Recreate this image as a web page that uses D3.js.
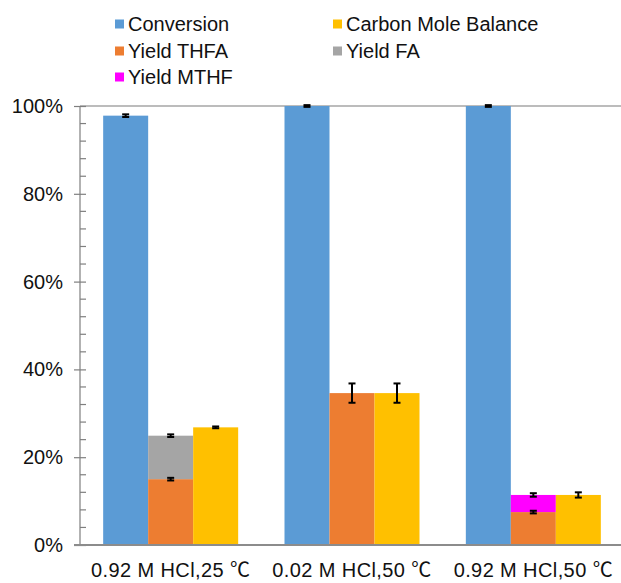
<!DOCTYPE html>
<html>
<head>
<meta charset="utf-8">
<script src="https://cdn.jsdelivr.net/npm/d3@7"></script>
<style>
  html, body { margin: 0; padding: 0; background: #fff; }
  svg { display: block; font-family: "Liberation Sans", Arial, "Noto Sans CJK SC", sans-serif; }
</style>
</head>
<body>
<svg id="chart" width="621" height="583"></svg>
<script>
// Reaction conditions (x categories)
const categories = ["0.92 M HCl,25 ℃", "0.02 M HCl,50 ℃", "0.92 M HCl,50 ℃"];

// Values in percent
const conversion    = [97.8, 100, 100];
const yieldTHFA     = [15.0, 34.6, 7.5];
const yieldFA       = [9.9, 0, 0];
const yieldMTHF     = [0, 0, 3.9];
const carbonBalance = [26.8, 34.6, 11.4];

// Error bar half-widths in percent
const errConversion = [0.3, 0.2, 0.2];
const errTHFA       = [0.3, 2.2, 0.3];
const errFA         = [0.3, 0, 0];
const errMTHF       = [0, 0, 0.4];
const errBalance    = [0.2, 2.2, 0.6];

const yTicks = [0, 20, 40, 60, 80, 100];

const legendItems = [
  { name: "Conversion", color: "#5B9BD5" },
  { name: "Carbon Mole Balance", color: "#FFC000" },
  { name: "Yield THFA", color: "#ED7D31" },
  { name: "Yield FA", color: "#A5A5A5" },
  { name: "Yield MTHF", color: "#FF00FF" }
];
const colors = Object.fromEntries(legendItems.map(d => [d.name, d.color]));

const svg = d3.select("#chart");
const plotLeft = 80, plotRight = 624, plotTop = 106, plotBottom = 545;
const fontSize = 20;

const x = d3.scaleBand().domain(categories).range([plotLeft, plotRight]);
const y = d3.scaleLinear().domain([0, 100]).range([plotBottom, plotTop]);
const barW = 45;
const slot = d3.scaleBand().domain(["conv", "yield", "bal"]).range([0, barW * 3]);
const groupStart = c => x(c) + x.bandwidth() / 2 - barW * 1.5;

// Top gridline (100%)
svg.append("line")
  .attr("x1", plotLeft).attr("x2", 621)
  .attr("y1", y(100)).attr("y2", y(100))
  .attr("stroke", "#A6A6A6").attr("stroke-width", 1.5);

// Bars and error bars per condition
categories.forEach((c, i) => {
  const g0 = groupStart(c);
  const segs = [];
  segs.push({ x: g0 + slot("conv"), y0: 0, y1: conversion[i], color: colors["Conversion"] });
  let acc = 0;
  [[yieldTHFA, "Yield THFA"], [yieldFA, "Yield FA"], [yieldMTHF, "Yield MTHF"]].forEach(([arr, name]) => {
    if (arr[i] > 0) {
      segs.push({ x: g0 + slot("yield"), y0: acc, y1: acc + arr[i], color: colors[name] });
      acc += arr[i];
    }
  });
  segs.push({ x: g0 + slot("bal"), y0: 0, y1: carbonBalance[i], color: colors["Carbon Mole Balance"] });

  svg.append("g").selectAll("rect").data(segs).join("rect")
    .attr("x", d => d.x)
    .attr("y", d => y(d.y1))
    .attr("width", slot.bandwidth())
    .attr("height", d => y(d.y0) - y(d.y1))
    .attr("fill", d => d.color);

  const errs = [];
  errs.push({ cx: g0 + slot("conv") + barW / 2, v: conversion[i], e: errConversion[i] });
  let a2 = yieldTHFA[i];
  errs.push({ cx: g0 + slot("yield") + barW / 2, v: a2, e: errTHFA[i] });
  if (yieldFA[i] > 0) { a2 += yieldFA[i]; errs.push({ cx: g0 + slot("yield") + barW / 2, v: a2, e: errFA[i] }); }
  if (yieldMTHF[i] > 0) { a2 += yieldMTHF[i]; errs.push({ cx: g0 + slot("yield") + barW / 2, v: a2, e: errMTHF[i] }); }
  errs.push({ cx: g0 + slot("bal") + barW / 2, v: carbonBalance[i], e: errBalance[i] });

  const eg = svg.append("g").attr("stroke", "#000").attr("stroke-width", 2);
  errs.forEach(d => {
    const yt = y(d.v + d.e), yb = y(d.v - d.e);
    eg.append("line").attr("x1", d.cx).attr("x2", d.cx).attr("y1", yt).attr("y2", yb);
    eg.append("line").attr("x1", d.cx - 3.5).attr("x2", d.cx + 3.5).attr("y1", yt).attr("y2", yt);
    eg.append("line").attr("x1", d.cx - 3.5).attr("x2", d.cx + 3.5).attr("y1", yb).attr("y2", yb);
  });
});

// Y axis with crossing major ticks and inside minor ticks
const yAxis = svg.append("g").attr("transform", `translate(${plotLeft},0)`)
  .call(d3.axisLeft(y).tickValues(yTicks).tickFormat(d => d + "%").tickSize(6).tickPadding(11));
yAxis.select(".domain").remove();
yAxis.selectAll(".tick line").attr("x1", 6).attr("x2", -6).attr("stroke", "#7F7F7F").attr("stroke-width", 1.2);
yAxis.selectAll(".tick text").attr("font-size", fontSize).attr("fill", "#111")
  .style("font-family", "'Liberation Sans', Arial, sans-serif");

const minor = d3.range(0, 101, 4).filter(v => v % 20 !== 0);
svg.append("g").attr("transform", `translate(${plotLeft},0)`)
  .selectAll("line").data(minor).join("line")
  .attr("x1", 0).attr("x2", 6)
  .attr("y1", d => y(d)).attr("y2", d => y(d))
  .attr("stroke", "#7F7F7F").attr("stroke-width", 1.2);

svg.append("line")
  .attr("x1", plotLeft).attr("x2", plotLeft).attr("y1", y(100)).attr("y2", y(0))
  .attr("stroke", "#7F7F7F").attr("stroke-width", 1.2);

// X axis
svg.append("line")
  .attr("x1", plotLeft - 6).attr("x2", 621).attr("y1", y(0)).attr("y2", y(0))
  .attr("stroke", "#8C8C8C").attr("stroke-width", 2);

// Category labels; the degree sign uses the CJK face
const catText = svg.append("g").selectAll("text").data(categories).join("text")
  .attr("x", c => x(c) + x.bandwidth() / 2)
  .attr("y", 577)
  .attr("text-anchor", "middle")
  .attr("font-size", fontSize)
  .attr("letter-spacing", 0.4)
  .attr("fill", "#111");
catText.append("tspan").text(c => c.replace("℃", ""));
catText.append("tspan").attr("font-family", "'Noto Sans CJK SC', sans-serif").text("℃");

// Legend
const legendPos = [
  { x: 115, y: 24 }, { x: 333, y: 24 },
  { x: 115, y: 51 }, { x: 333, y: 51 },
  { x: 115, y: 77 }
];
const lg = svg.append("g").selectAll("g").data(legendItems).join("g")
  .attr("transform", (d, i) => `translate(${legendPos[i].x},${legendPos[i].y})`);
lg.append("rect").attr("x", 0).attr("y", -4.5).attr("width", 9).attr("height", 9).attr("fill", d => d.color);
lg.append("text").attr("x", 13).attr("y", 0).attr("dy", "0.35em")
  .attr("font-size", fontSize).attr("fill", "#111").text(d => d.name);
</script>
</body>
</html>
